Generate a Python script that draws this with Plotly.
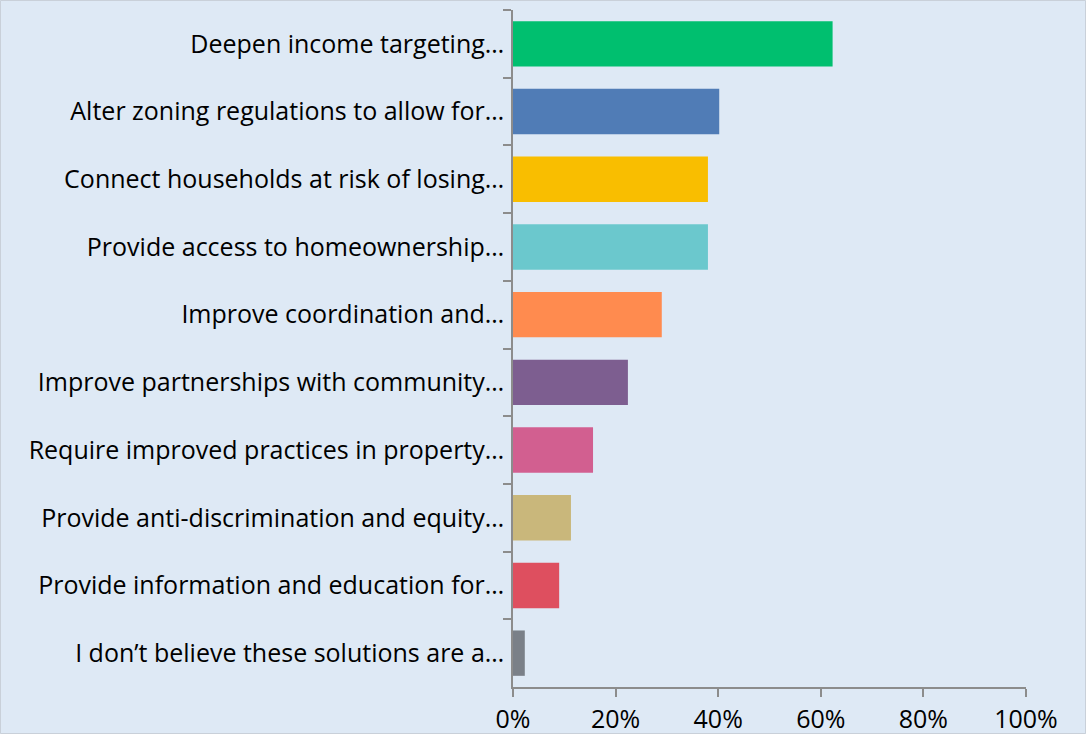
import plotly.graph_objects as go

# Survey answers (truncated as displayed) and share of respondents
answers = [
    "Deepen income targeting…",
    "Alter zoning regulations to allow for…",
    "Connect households at risk of losing…",
    "Provide access to homeownership…",
    "Improve coordination and…",
    "Improve partnerships with community…",
    "Require improved practices in property…",
    "Provide anti-discrimination and equity…",
    "Provide information and education for…",
    "I don’t believe these solutions are a…",
]
shares = [0.623, 0.402, 0.380, 0.380, 0.290, 0.224, 0.156, 0.113, 0.090, 0.023]
bar_colors = [
    "#00BF6F", "#507CB6", "#F9BE00", "#6BC8CD", "#FF8B4F",
    "#7D5E90", "#D25F90", "#C9B77B", "#DE4F5F", "#7A8088",
]
x_ticks = [0, 0.2, 0.4, 0.6, 0.8, 1.0]
x_tick_labels = ["0%", "20%", "40%", "60%", "80%", "100%"]

BG = "#DEE9F5"
AXIS = "#8C8C8C"
FONT = "'Open Sans', Lato, sans-serif"
FS = 25

W, H = 1086, 734
ML, MR, MT, MB = 513, 60, 10, 47
PW, PH = W - ML - MR, H - MT - MB

fig = go.Figure(
    go.Bar(
        x=shares,
        y=answers,
        orientation="h",
        marker=dict(color=bar_colors, line=dict(width=0)),
        hoverinfo="x+y",
    )
)

fig.update_layout(
    width=W,
    height=H,
    paper_bgcolor=BG,
    plot_bgcolor=BG,
    margin=dict(l=ML, r=MR, t=MT, b=MB, autoexpand=False),
    bargap=0.33,
    showlegend=False,
    font=dict(family=FONT, size=FS, color="#000000"),
    shapes=[
        dict(
            type="rect", xref="paper", yref="paper",
            x0=(-ML + 0.5) / PW, x1=1 + (MR - 0.5) / PW,
            y0=(-MB + 0.5) / PH, y1=1 + (MT - 0.5) / PH,
            line=dict(color="#C9D0D9", width=1), fillcolor="rgba(0,0,0,0)",
            layer="below",
        )
    ],
)

fig.update_xaxes(
    range=[0, 1.0],
    tickvals=x_ticks,
    ticktext=x_tick_labels,
    showgrid=False,
    zeroline=False,
    showline=True,
    linecolor=AXIS,
    linewidth=1.5,
    ticks="outside",
    ticklen=8,
    tickcolor=AXIS,
    tickwidth=1.5,
    ticklabelstandoff=1,
    automargin=False,
    tickfont=dict(family=FONT, size=FS, color="#000000"),
)

fig.update_yaxes(
    autorange="reversed",
    showgrid=False,
    zeroline=False,
    showline=True,
    linecolor=AXIS,
    linewidth=1.5,
    ticks="outside",
    tickson="boundaries",
    ticklen=8,
    tickcolor=AXIS,
    tickwidth=1.5,
    ticklabelstandoff=2,
    automargin=False,
    tickfont=dict(family=FONT, size=FS, color="#000000"),
)

fig.write_html("out.html")
